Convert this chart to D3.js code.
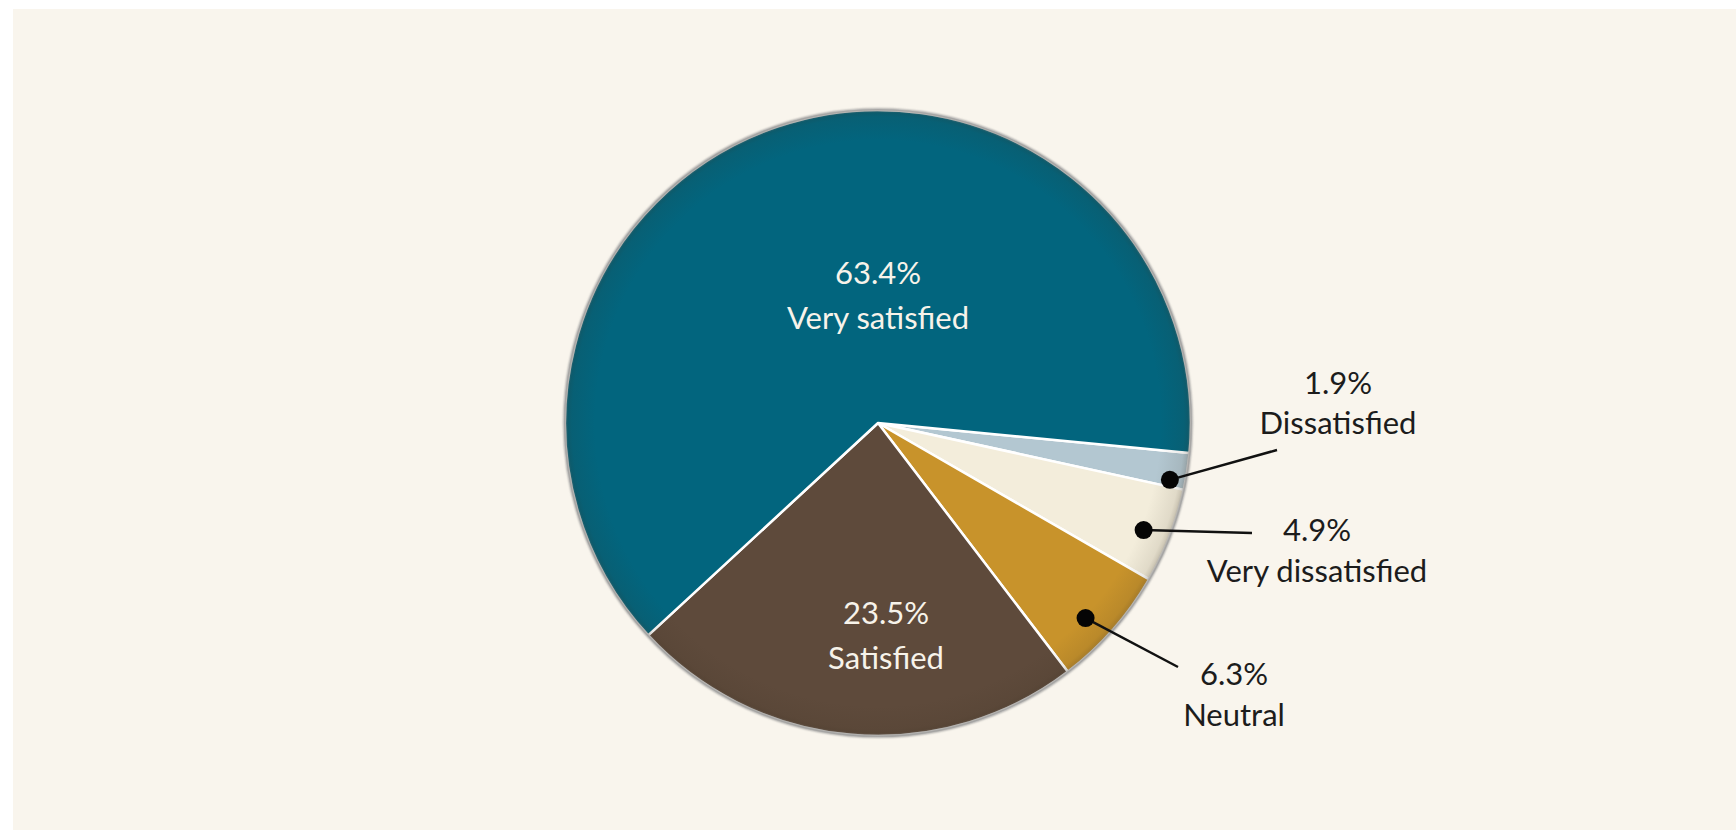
<!DOCTYPE html>
<html>
<head>
<meta charset="utf-8">
<script src="https://cdn.jsdelivr.net/npm/d3@7"></script>
<style>
  html, body { margin: 0; padding: 0; background: #ffffff; }
  svg { display: block; }
  text { font-family: Lato, "Open Sans", sans-serif; }
</style>
</head>
<body>
<svg id="chart"></svg>
<script>
// clockwise from the Dissatisfied slice
const categories = ['Dissatisfied', 'Very dissatisfied', 'Neutral', 'Satisfied', 'Very satisfied'];
const values = [1.9, 4.9, 6.3, 23.5, 63.4];
const valueLabels = ['1.9%', '4.9%', '6.3%', '23.5%', '63.4%'];
const colors = ['#b3c7d1', '#f3eddb', '#c8932b', '#5e4a3b', '#02657e'];

// label placement (offsets from the pie centre), outside labels get a dot + leader
const labelLayout = [
    {outside: true,  dotR: 0.95, dotShift: 2.1, lineEnd: [399, 27],  text: [460, -29], gap: 40},
    {outside: true,  dotR: 0.915, dotShift: 0.8, lineEnd: [374, 110], text: [439, 118], gap: 41},
    {outside: true,  dotR: 0.91, dotShift: 1.9, lineEnd: [300, 244], text: [356, 262], gap: 41},
    {outside: false, text: [8, 201], gap: 45},
    {outside: false, text: [0, -139], gap: 45}
];

const width = 1736, height = 830;
const cx = 878, cy = 423, radius = 313;
const startAngle = 95.5 * Math.PI / 180;

const svg = d3.select('#chart')
    .attr('width', width)
    .attr('height', height);

// background panel
svg.append('rect')
    .attr('x', 13).attr('y', 9)
    .attr('width', width - 13).attr('height', height - 9)
    .attr('fill', '#f9f5ed');

const defs = svg.append('defs');
const shade = defs.append('radialGradient')
    .attr('id', 'rimShade')
    .attr('cx', '50%').attr('cy', '50%').attr('r', '50%');
shade.append('stop').attr('offset', '0.9').attr('stop-color', '#3a3020').attr('stop-opacity', 0);
shade.append('stop').attr('offset', '0.975').attr('stop-color', '#3a3020').attr('stop-opacity', 0.1);
shade.append('stop').attr('offset', '1').attr('stop-color', '#3a3020').attr('stop-opacity', 0.28);

defs.append('filter').attr('id', 'soft')
    .append('feGaussianBlur').attr('stdDeviation', 0.8);

const data = categories.map((c, i) => ({
    category: c, value: values[i], label: valueLabels[i], color: colors[i], layout: labelLayout[i]
}));

const pie = d3.pie()
    .sort(null)
    .value(d => d.value)
    .startAngle(startAngle)
    .endAngle(startAngle + 2 * Math.PI);

const arc = d3.arc().innerRadius(0).outerRadius(radius);

const g = svg.append('g')
    .attr('transform', `translate(${cx}, ${cy})`);

const arcs = pie(data);

g.selectAll('path.slice')
    .data(arcs)
    .join('path')
    .attr('class', 'slice')
    .attr('d', arc)
    .attr('fill', d => d.data.color)
    .attr('stroke', '#ffffff')
    .attr('stroke-width', 2.5)
    .attr('stroke-linejoin', 'round');

// inner shading near the rim
g.append('circle')
    .attr('r', radius + 1)
    .attr('fill', 'url(#rimShade)');

// soft grey outline
g.append('circle')
    .attr('r', radius + 0.5)
    .attr('fill', 'none')
    .attr('stroke', '#8f8f8f')
    .attr('stroke-width', 2)
    .attr('filter', 'url(#soft)');

// dots and leaders for the small slices
const outside = arcs.filter(d => d.data.layout.outside);

outside.forEach(d => {
    const lay = d.data.layout;
    const a = (d.startAngle + d.endAngle) / 2 + lay.dotShift * Math.PI / 180;
    const r = radius * lay.dotR;
    const x = r * Math.sin(a), y = -r * Math.cos(a);
    const [ex, ey] = lay.lineEnd;
    g.append('line')
        .attr('x1', x).attr('y1', y)
        .attr('x2', ex).attr('y2', ey)
        .attr('stroke', '#111')
        .attr('stroke-width', 2.5);
    g.append('circle')
        .attr('cx', x).attr('cy', y)
        .attr('r', 9)
        .attr('fill', '#050505');
});

// labels
arcs.forEach(d => {
    const lay = d.data.layout;
    const [tx, ty] = lay.text;
    const t = g.append('text')
        .attr('text-anchor', 'middle')
        .attr('font-size', '31px')
        .attr('fill', lay.outside ? '#1c1c1c' : '#f7f3ea');
    t.append('tspan')
        .attr('x', tx).attr('y', ty)
        .text(d.data.label);
    t.append('tspan')
        .attr('x', tx).attr('y', ty + lay.gap)
        .text(d.data.category);
});
</script>
</body>
</html>
